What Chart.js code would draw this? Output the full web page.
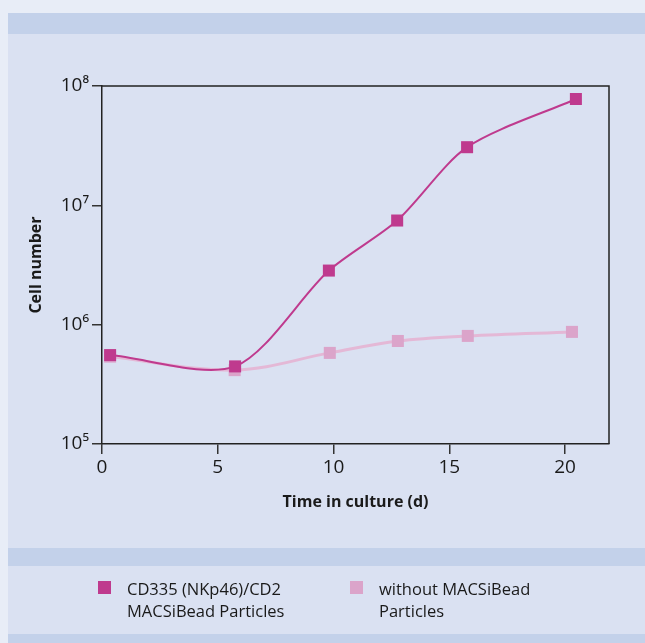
<!DOCTYPE html>
<html>
<head>
<meta charset="utf-8">
<script src="https://cdn.jsdelivr.net/npm/chart.js@4"></script>
<style>
  html, body { margin: 0; padding: 0; }
  body { width: 645px; height: 643px; background: #e8edf7; position: relative; overflow: hidden;
         font-family: "Open Sans", "Noto Sans", sans-serif; color: #1a1a1a; }
  .panel { position: absolute; left: 8px; right: 0; background: #dae1f2; }
  .band { position: absolute; left: 8px; right: 0; background: #c3d1ea; }
  #wrap { position: absolute; left: 0; top: 0; width: 645px; height: 643px; }
  .leg { position: absolute; top: 578px; font-size: 16.5px; line-height: 22px; }
  .leg i { position: absolute; left: -29px; top: 3px; width: 13px; height: 13px; }
</style>
</head>
<body>
<div class="panel" style="top:13px;height:630px"></div>
<div class="band" style="top:13px;height:21px"></div>
<div class="band" style="top:548px;height:18px"></div>
<div class="band" style="top:634px;height:9px"></div>
<div id="wrap"><canvas id="myChart" width="645" height="643"></canvas></div>
<div id="legend"></div>
<script>
// days in culture and cell numbers
var daysBead=[0.35,5.75,9.8,12.75,15.77,20.47]
var cellsBead=[556000,447000,2840000,7460000,30700000,77800000]

var daysNoBead=[0.35,5.73,9.84,12.78,15.8,20.3]
var cellsNoBead=[540000,416000,580000,730000,805000,870000]

var xTicks=[0,5,10,15,20]
var yTicks=[1e5,1e6,1e7,1e8]
var supers={5:'\u2075',6:'\u2076',7:'\u2077',8:'\u2078'}

var labelBead=['CD335 (NKp46)/CD2','MACSiBead Particles']
var labelNoBead=['without MACSiBead','Particles']

function pts(xs,ys){ return xs.map(function(x,i){ return {x:x,y:ys[i]} }) }

var boxPlugin={
  id:'box',
  beforeDatasetsDraw:function(chart){
    var a=chart.chartArea, c=chart.ctx
    c.save()
    c.strokeStyle='#222'
    c.lineWidth=1.5
    c.beginPath()
    c.moveTo(a.left,a.top); c.lineTo(a.right,a.top); c.lineTo(a.right,a.bottom)
    c.stroke()
    c.restore()
  }
}

Chart.defaults.font.family='"Open Sans", "Noto Sans", sans-serif'
Chart.defaults.color='#1a1a1a'

var chart=new Chart("myChart", {
  type:"line",
  data:{
    datasets:[{
      label:labelBead.join(' '),
      data:pts(daysBead,cellsBead),
      borderColor:"#bf3a8e",
      backgroundColor:"#bf3a8e",
      borderWidth:2,
      tension:0.28,
      pointStyle:'rect',
      pointRadius:8.5,
      pointHoverRadius:8.5,
      pointBorderWidth:0
    },{
      label:labelNoBead.join(' '),
      data:pts(daysNoBead,cellsNoBead),
      borderColor:"#e4b8d6",
      backgroundColor:"#dba4ca",
      borderWidth:3,
      tension:0.35,
      pointStyle:'rect',
      pointRadius:8.5,
      pointHoverRadius:8.5,
      pointBorderWidth:0
    }]
  },
  options:{
    responsive:false,
    animation:false,
    layout:{padding:{left:0,top:86,right:36,bottom:119}},
    plugins:{legend:{display:false},tooltip:{enabled:false}},
    scales:{
      x:{
        type:'linear',
        min:0, max:21.9,
        afterBuildTicks:function(s){ s.ticks=xTicks.map(function(v){return {value:v}}) },
        afterFit:function(s){ s.height=80 },
        ticks:{font:{size:19},padding:2,color:'#1a1a1a'},
        grid:{drawOnChartArea:false,drawTicks:true,tickLength:10,color:'#333',lineWidth:1.5},
        border:{color:'#222',width:1.5},
        title:{display:true,text:'Time in culture (d)',font:{size:16,weight:'bold'},padding:{bottom:12},color:'#1a1a1a'}
      },
      y:{
        type:'logarithmic',
        min:1e5, max:1e8,
        afterBuildTicks:function(s){ s.ticks=yTicks.map(function(v){return {value:v}}) },
        afterFit:function(s){ s.width=102 },
        ticks:{font:{size:19},padding:3,color:'#1a1a1a',
          callback:function(v){ return '10'+supers[Math.round(Math.log10(v))] }},
        grid:{drawOnChartArea:false,drawTicks:true,tickLength:10,color:'#333',lineWidth:1.5},
        border:{color:'#222',width:1.5},
        title:{display:true,text:'Cell number',font:{size:16,weight:'bold'},padding:{top:27},color:'#1a1a1a'}
      }
    }
  },
  plugins:[boxPlugin]
});

// html legend, two lines per entry as in the original figure
var lines=[labelBead,labelNoBead]
var lefts=[127,379]
var html=''
chart.data.datasets.forEach(function(d,i){
  html+='<div class="leg" style="left:'+lefts[i]+'px"><i style="background:'+d.backgroundColor+'"></i>'+lines[i].join('<br>')+'</div>'
})
document.getElementById('legend').innerHTML=html
</script>
</body>
</html>
